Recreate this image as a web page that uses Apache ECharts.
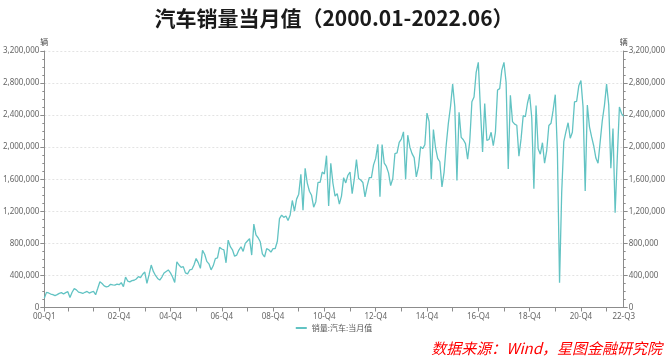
<!DOCTYPE html>
<html><head><meta charset="utf-8">
<script src="https://cdn.jsdelivr.net/npm/echarts@6/dist/echarts.min.js"></script>
<style>html,body{margin:0;padding:0;background:#fff}#c{width:668px;height:358px}</style>
</head><body><div id="c"></div>
<script>
// Monthly car sales (units), Jan 2000 – Aug 2022, one array per year
const v2000 = [115000,189000,181000,168000,160000,148000,160000,176000,185000,168000,185000,197000];
const v2001 = [125000,190000,235000,220000,192000,185000,175000,190000,200000,180000,192000,200000];
const v2002 = [160000,240000,322000,300000,270000,258000,265000,290000,282000,280000,292000,285000];
const v2003 = [310000,260000,380000,330000,320000,335000,340000,355000,385000,372000,415000,442000];
const v2004 = [300000,410000,530000,450000,400000,362000,342000,380000,430000,450000,468000,432000];
const v2005 = [380000,312000,571000,530000,500000,510000,432000,420000,468000,475000,530000,612000];
const v2006 = [560000,488000,712000,665000,575000,545000,470000,520000,610000,620000,750000,730000];
const v2007 = [720000,558000,841000,760000,720000,640000,654000,716000,758000,700000,800000,830000];
const v2008 = [860000,654000,1040000,905000,870000,820000,670000,630000,735000,720000,690000,735000];
const v2009 = [736000,827000,1109000,1152000,1125000,1141000,1085000,1154000,1335000,1201000,1352000,1414000];
const v2010 = [1661000,1215000,1736000,1552000,1450000,1400000,1252000,1320000,1560000,1560000,1690000,1666000];
const v2011 = [1894000,1268000,1800000,1550000,1390000,1420000,1290000,1390000,1620000,1554000,1650000,1690000];
const v2012 = [1420000,1605000,1845000,1610000,1590000,1560000,1379000,1515000,1620000,1620000,1779000,1860000];
const v2013 = [2035000,1383000,2034000,1800000,1760000,1680000,1520000,1610000,1920000,1930000,2060000,2100000];
const v2014 = [2191000,1600000,2150000,2000000,1920000,1870000,1630000,1750000,2007000,1982000,2030000,2426000];
const v2015 = [2318000,1600000,2220000,1990000,1860000,1818000,1503000,1690000,2030000,2300000,2508000,2787000];
const v2016 = [2508000,1586000,2436000,2123000,2093000,2044000,1852000,2074000,2566000,2626000,2933000,3059000];
const v2017 = [2472000,1939000,2544000,2084000,2096000,2186000,2019000,2185000,2713000,2731000,2961000,3059000];
const v2018 = [2810000,1727000,2648000,2319000,2288000,2274000,1889000,2103000,2394000,2380000,2548000,2661000];
const v2019 = [2367000,1482000,2520000,1981000,1913000,2056000,1801000,1958000,2271000,2298000,2462000,2655000];
const v2020 = [1941000,310000,1430000,2070000,2194000,2305000,2112000,2186000,2565000,2573000,2765000,2831000];
const v2021 = [2503000,1455000,2526000,2252000,2128000,2015000,1864000,1799000,2067000,2333000,2521000,2786000];
const v2022 = [2531000,1737000,2234000,1181000,1862000,2502000,2420000,2383000];

const years = [v2000,v2001,v2002,v2003,v2004,v2005,v2006,v2007,v2008,v2009,v2010,v2011,
  v2012,v2013,v2014,v2015,v2016,v2017,v2018,v2019,v2020,v2021,v2022];

// category months and tick labels
const months = [];
const values = [];
years.forEach((arr, yi) => {
  arr.forEach((v, mi) => {
    months.push((2000 + yi) + '-' + String(mi + 1).padStart(2, '0'));
    values.push(v);
  });
});
const tickMonths = ['2000-01','2002-12','2004-12','2006-12','2008-12','2010-12','2012-12','2014-12','2016-12','2018-12','2020-12','2022-08'];
const tickLabels = ['00-Q1','02-Q4','04-Q4','06-Q4','08-Q4','10-Q4','12-Q4','14-Q4','16-Q4','18-Q4','20-Q4','22-Q3'];

const seriesName = '销量:汽车:当月值';
const chart = echarts.init(document.getElementById('c'));
const fmt = v => v.toLocaleString('en-US');
const axisColor = '#8c8c8c';
const labelStyle = {fontSize: 8, color: '#666', fontFamily: 'Noto Sans'};

function yAxisCfg(pos) {
  return {
    type: 'value', position: pos, min: 0, max: 3200000, interval: 400000,
    name: '辆', nameLocation: 'end', nameGap: 5,
    nameTextStyle: {fontSize: 8, color: '#444', fontFamily: 'Noto Sans CJK SC', align: 'center'},
    axisLine: {show: true, lineStyle: {color: axisColor}},
    axisTick: {show: true, length: 4, lineStyle: {color: axisColor}},
    minorTick: {show: true, splitNumber: 4, length: 2, lineStyle: {color: axisColor}},
    axisLabel: Object.assign({formatter: fmt, margin: 5}, labelStyle),
    splitLine: {show: pos === 'left', lineStyle: {color: '#e3e3e3', type: [2, 2]}}
  };
}

chart.setOption({
  animation: false,
  title: {
    text: '汽车销量当月值（2000.01-2022.06）',
    left: 'center', top: 3,
    textStyle: {fontSize: 21, fontWeight: 'bold', color: '#1a1a1a', fontFamily: 'Noto Sans CJK SC'}
  },
  graphic: [{
    type: 'text', right: 6, bottom: 2,
    style: {text: '数据来源：Wind，星图金融研究院', fill: '#ff0000', fontSize: 15,
      fontStyle: 'italic', fontFamily: 'Noto Sans CJK SC'}
  }],
  legend: {
    bottom: 21, left: 'center', icon: 'rect', itemWidth: 11, itemHeight: 2, itemGap: 4,
    textStyle: {fontSize: 8, color: '#555', fontFamily: 'Noto Sans CJK SC'},
    data: [seriesName]
  },
  grid: {left: 41, right: 42, top: 51, bottom: 50.5, containLabel: false},
  xAxis: {
    type: 'category', data: months, boundaryGap: false,
    axisLine: {lineStyle: {color: axisColor}},
    axisTick: {length: 4, lineStyle: {color: axisColor},
      interval: (i) => i === 0 || i % 12 === 11},
    axisLabel: Object.assign({
      interval: (i, val) => tickMonths.indexOf(val) >= 0,
      formatter: (val) => { const k = tickMonths.indexOf(val); return k >= 0 ? tickLabels[k] : ''; },
      margin: 5
    }, labelStyle),
    splitLine: {show: false}
  },
  yAxis: [yAxisCfg('left'), yAxisCfg('right')],
  series: [{
    name: seriesName, type: 'line', data: values, yAxisIndex: 0,
    showSymbol: false, symbol: 'none',
    lineStyle: {width: 1.3, color: '#62c3c3'},
    itemStyle: {color: '#62c3c3'}
  }]
});
</script>
</body></html>
